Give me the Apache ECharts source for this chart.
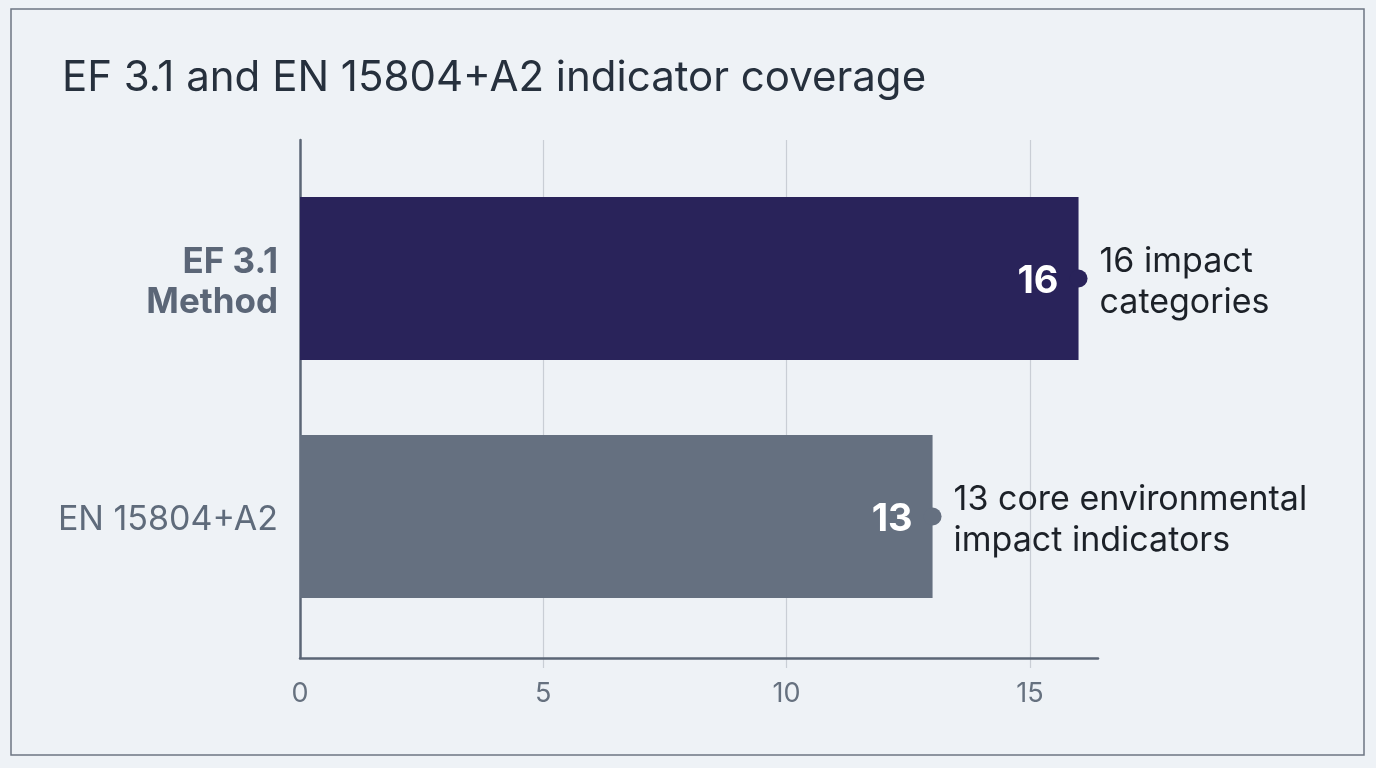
<!DOCTYPE html>
<html>
<head>
<meta charset="utf-8">
<script src="https://cdn.jsdelivr.net/npm/echarts@6/dist/echarts.min.js"></script>
<style>
  html, body { margin: 0; padding: 0; background: #eef2f6; }
  #chart { width: 1376px; height: 768px; }
</style>
</head>
<body>
<div id="chart"></div>
<script>
// data
const categories = ['EF 3.1\nMethod', 'EN 15804+A2'];
const counts = [16, 13];
const notes = ['16 impact\ncategories', '13 core environmental\nimpact indicators'];
const xTickStep = 5;
const xTickMax = 15;
const xAxisEnd = 16.4;

const barColors = ['#29235a', '#657080'];
const font = 'Inter, "Noto Sans", sans-serif';

// plot geometry (px)
const plotLeft = 300, plotRight = 278;
const plotWidth = 1376 - plotLeft - plotRight;

const chart = echarts.init(document.getElementById('chart'), null, { renderer: 'canvas' });

const option = {
  backgroundColor: '#eef2f6',
  animation: false,
  textStyle: { fontFamily: font },
  title: {
    text: 'EF 3.1 and EN 15804+A2 indicator coverage',
    left: 57, top: 52,
    textStyle: { fontFamily: font, fontSize: 42, fontWeight: 'normal', color: '#26303d' }
  },
  graphic: [{
    type: 'rect',
    shape: { x: 11, y: 9, width: 1353, height: 746 },
    style: { fill: 'none', stroke: '#6d7682', lineWidth: 1.5 },
    silent: true
  }],
  grid: [
    // axis lines
    { left: plotLeft, right: plotRight, top: 140, bottom: 110 },
    // grid lines + tick labels (run 10px below the axis line)
    { left: plotLeft, width: plotWidth * xTickMax / xAxisEnd, top: 140, bottom: 100 },
    // bars
    { left: plotLeft, right: plotRight, top: 159.5, bottom: 132.5 }
  ],
  xAxis: [
    {
      gridIndex: 0, type: 'value', min: 0, max: xAxisEnd,
      axisLine: { show: true, lineStyle: { color: '#5b6676', width: 2.5 } },
      axisTick: { show: false }, axisLabel: { show: false }, splitLine: { show: false }
    },
    {
      gridIndex: 1, type: 'value', min: 0, max: xTickMax, interval: xTickStep,
      axisLine: { show: false }, axisTick: { show: false },
      axisLabel: { margin: 12, fontSize: 27, color: '#66717f', fontFamily: font },
      splitLine: { show: true, showMinLine: false, lineStyle: { color: '#c9ced5', width: 1.2 } }
    },
    {
      gridIndex: 2, type: 'value', min: 0, max: xAxisEnd, show: false
    }
  ],
  yAxis: [
    {
      gridIndex: 0, type: 'category', data: categories, inverse: true,
      axisLine: { show: true, lineStyle: { color: '#5b6676', width: 2.5 } },
      axisTick: { show: false }, axisLabel: { show: false }
    },
    {
      gridIndex: 1, type: 'category', data: categories, show: false
    },
    {
      gridIndex: 2, type: 'category', data: categories, inverse: true,
      axisLine: { show: false }, axisTick: { show: false },
      axisLabel: {
        margin: 22,
        padding: [7, 0, 0, 0],
        formatter: function (value, idx) {
          return value.split('\n').map(function (s) {
            return '{' + (idx === 0 ? 'b' : 'n') + '|' + s + '}';
          }).join('\n');
        },
        rich: {
          b: { fontSize: 35, fontWeight: 'bold', color: '#5b6677', lineHeight: 40, fontFamily: font, align: 'right' },
          n: { fontSize: 34, color: '#5f6b7b', lineHeight: 40, fontFamily: font, align: 'right' }
        }
      }
    }
  ],
  series: [
    {
      type: 'bar',
      xAxisIndex: 2, yAxisIndex: 2,
      barWidth: 163,
      data: counts.map(function (v, i) {
        return { value: v, itemStyle: { color: barColors[i] } };
      }),
      label: {
        show: true, position: 'insideRight', distance: 20,
        offset: [0, 3],
        color: '#ffffff', fontSize: 38, fontWeight: 'bold', fontFamily: font
      },
      z: 3
    },
    {
      type: 'scatter',
      xAxisIndex: 2, yAxisIndex: 2,
      symbol: 'circle', symbolSize: 18,
      data: counts.map(function (v, i) {
        return { value: [v, i], itemStyle: { color: barColors[i], opacity: 1 } };
      }),
      label: {
        show: true, position: 'right', distance: 12,
        offset: [0, 4],
        formatter: function (p) { return notes[p.dataIndex]; },
        fontSize: 34, lineHeight: 41, color: '#1c2128', fontFamily: font
      },
      z: 4
    }
  ]
};

chart.setOption(option);
</script>
</body>
</html>
